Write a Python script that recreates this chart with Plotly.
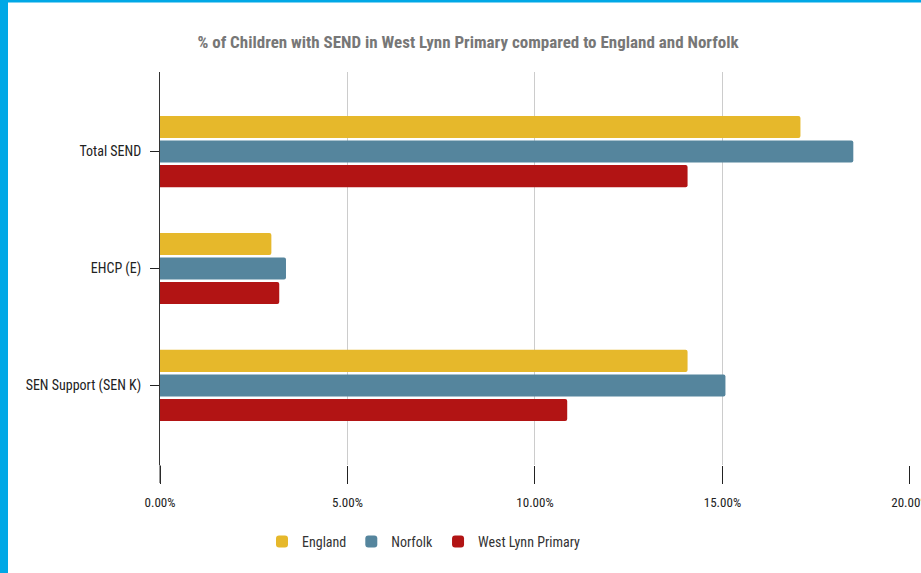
import plotly.graph_objects as go

categories = ["Total SEND", "EHCP (E)", "SEN Support (SEN K)"]
england = [17.08, 2.97, 14.07]
norfolk = [18.49, 3.36, 15.08]
west_lynn = [14.07, 3.18, 10.86]
x_ticks = [0, 5, 10, 15, 20]
x_tick_labels = ["0.00%", "5.00%", "10.00%", "15.00%", "20.00%"]

series = [
    ("England", england, "#E6B82B"),
    ("Norfolk", norfolk, "#55859D"),
    ("West Lynn Primary", west_lynn, "#B21414"),
]

font_family = "Roboto Condensed, Liberation Sans Narrow, Arial Narrow, Liberation Sans, sans-serif"

fig = go.Figure()
for name, vals, color in series:
    fig.add_trace(go.Bar(
        y=categories, x=vals, name=name, orientation="h",
        marker=dict(color=color, line=dict(width=0)),
    ))

W, H = 921, 573
L, R, T, B = 160, 11, 72, 108
pw = W - L - R
ph = H - T - B
fig_left = -L / pw
fig_top = (T + ph) / ph

shapes = [
    # cyan border left and top
    dict(type="rect", xref="paper", yref="paper",
         x0=fig_left - 0.01, x1=fig_left + 8 / pw, y0=-B / ph - 0.01, y1=fig_top + 0.01,
         fillcolor="#00A8E6", line=dict(width=0), layer="above"),
    dict(type="rect", xref="paper", yref="paper",
         x0=fig_left - 0.01, x1=(W - L) / pw + 0.01, y0=fig_top - 2.5 / ph, y1=fig_top + 0.01,
         fillcolor="#00A8E6", line=dict(width=0), layer="above"),
    # y axis line extension below plot
    dict(type="line", xref="paper", yref="paper",
         x0=0, x1=0, y0=-18 / ph, y1=0,
         line=dict(color="#333333", width=1)),
]

fig.update_layout(
    width=W, height=H,
    margin=dict(l=L, r=R, t=T, b=B, pad=0, autoexpand=False),
    paper_bgcolor="white", plot_bgcolor="white",
    barmode="group", bargap=0.37, bargroupgap=0.1,
    barcornerradius=2,
    title=dict(
        text="<b>% of Children with SEND in West Lynn Primary compared to England and Norfolk</b>",
        x=468 / W, xanchor="center", y=1 - 42.5 / H, yanchor="middle",
        font=dict(family=font_family, size=17, color="#777777"),
    ),
    font=dict(family=font_family, size=13, color="#222222"),
    legend=dict(
        orientation="h", x=(262 - L) / pw, xanchor="left",
        y=-(542 - (T + ph)) / ph, yanchor="middle",
        font=dict(family=font_family, size=14, color="#333333"),
        itemwidth=30, traceorder="normal", itemclick=False,
    ),
    shapes=shapes,
    showlegend=True,
)

fig.update_xaxes(
    range=[0, 20.002], tickvals=x_ticks, ticktext=x_tick_labels,
    showgrid=True, gridcolor="#CCCCCC", gridwidth=1,
    zeroline=False, showline=False, automargin=False,
    ticks="outside", ticklen=18, tickcolor="#222222", tickwidth=1,
    tickfont=dict(family=font_family, size=13, color="#222222"),
    ticklabelstandoff=7, ticklabeloverflow="allow",
    fixedrange=True,
)
fig.update_yaxes(
    range=[2.68, -0.68], autorange=False, automargin=False,
    showgrid=False, zeroline=False,
    showline=True, linecolor="#333333", linewidth=1,
    ticks="outside", ticklen=9, tickcolor="#222222",
    tickfont=dict(family=font_family, size=14, color="#222222"),
    ticklabelstandoff=6,
    fixedrange=True,
)

fig.write_html(
    "out.html",
    config={"displayModeBar": False},
    post_script="document.body.style.margin='0';document.body.style.overflow='hidden';",
)
